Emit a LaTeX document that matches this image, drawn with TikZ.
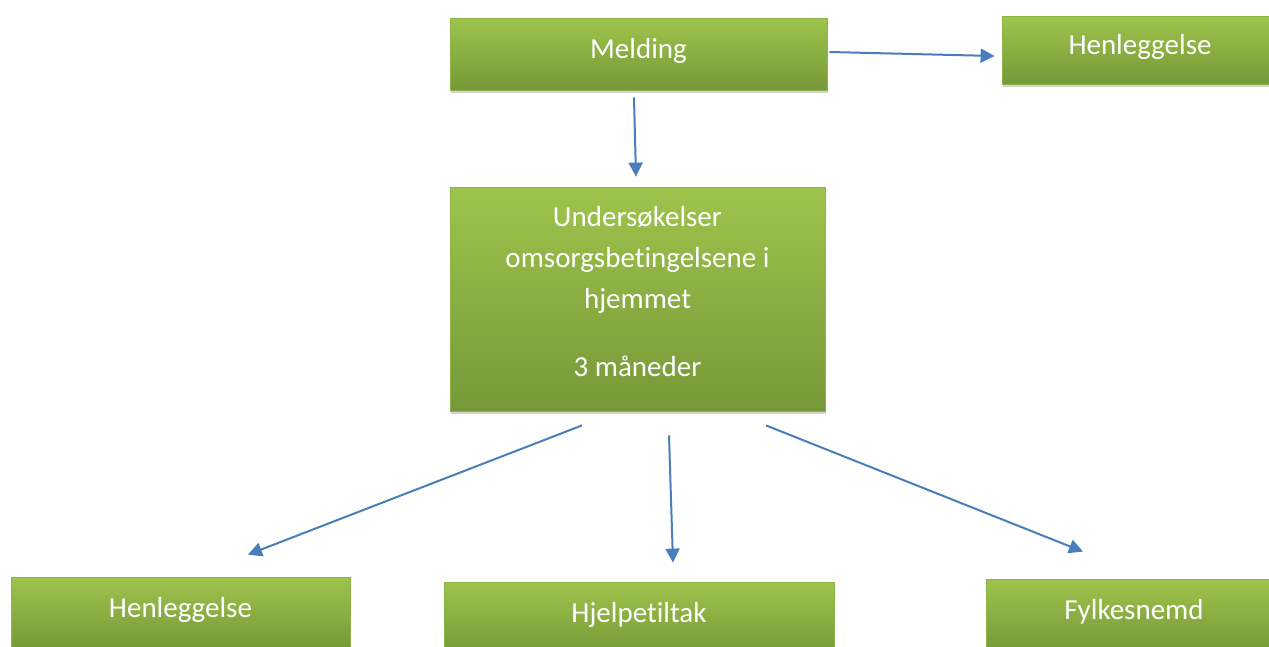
\documentclass[tikz,border=0pt]{standalone}
\usepackage{fontspec}
\setmainfont{Carlito}[Ligatures=NoCommon]
\usetikzlibrary{arrows.meta,shadows}

\definecolor{boxtop}{RGB}{158,196,76}
\definecolor{boxbottom}{RGB}{118,152,56}
\definecolor{boxline}{RGB}{140,180,72}
\definecolor{flowblue}{RGB}{74,126,187}

\begin{document}
\begin{tikzpicture}[x=1pt,y=-1pt,
    step box/.style={rectangle,draw=boxline,line width=0.8pt,
      top color=boxtop,bottom color=boxbottom,text=white,
      font=\fontsize{29}{41}\selectfont,align=center,
      drop shadow={shadow xshift=1pt,shadow yshift=-3pt,opacity=0.3,fill=black!60}},
    one line/.style={text height=20pt,text depth=12pt},
    flow/.style={draw=flowblue,line width=2pt,-{Triangle[length=14pt,width=14pt]}}]
  \useasboundingbox (0,0) rectangle (1269,646);
  \clip (0,0) rectangle (1269,646);
  \node[step box,one line,minimum width=377pt,minimum height=72pt] (meld) at (638.5,54) {Melding};
  \node[step box,one line,minimum width=276pt,minimum height=68pt] (henl1) at (1140,50) {Henleggelse};
  \node[step box,minimum width=375pt,minimum height=224pt,text depth=15pt] (und) at (637.5,299)
    {Undersøkelser\\omsorgsbetingelsene i\\hjemmet\\[27pt]3 måneder};
  \node[step box,one line,minimum width=339pt,minimum height=72pt] (henl2) at (180.5,613) {Henleggelse};
  \node[step box,one line,minimum width=390pt,minimum height=72pt] (hjelp) at (639,618) {Hjelpetiltak};
  \node[step box,one line,minimum width=296pt,minimum height=72pt] (fylk) at (1134,615) {Fylkesnemd};

  \draw[flow] ([xshift=2pt,yshift=2pt]meld.east) -- ([xshift=-7pt,yshift=-6pt]henl1.west);
  \draw[flow] ([xshift=-4.5pt,yshift=-7pt]meld.south) -- ([xshift=-1.5pt,yshift=10pt]und.north);
  \draw[flow] ([xshift=-55.5pt,yshift=-14pt]und.south) -- ([xshift=67.5pt,yshift=22pt]henl2.north);
  \draw[flow] ([xshift=31.5pt,yshift=-24pt]und.south) -- ([xshift=34pt,yshift=19pt]hjelp.north);
  \draw[flow] ([xshift=128.5pt,yshift=-14pt]und.south) -- ([xshift=-51pt,yshift=27pt]fylk.north);
\end{tikzpicture}
\end{document}
